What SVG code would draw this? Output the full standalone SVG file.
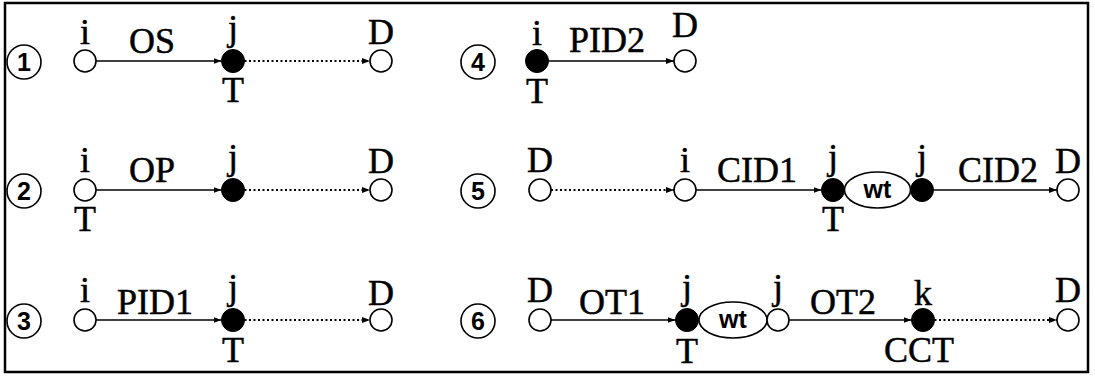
<svg xmlns="http://www.w3.org/2000/svg" width="1095" height="377" viewBox="0 0 1095 377">
  <style>
    .lbl { font-family: "Liberation Serif", "Times New Roman", serif; font-size: 36px; fill: #000; stroke: #000; stroke-width: 0.5; text-anchor: middle; }
    .num { font-family: "Liberation Sans", Arial, sans-serif; font-size: 25px; font-weight: bold; fill: #000; text-anchor: middle; }
    .wt { font-family: "Liberation Sans", Arial, sans-serif; font-size: 25px; font-weight: bold; fill: #000; text-anchor: middle; }
    .badge { fill: #fff; stroke: #000; stroke-width: 1.6; }
    .open { fill: #fff; stroke: #000; stroke-width: 1.6; }
    .full { fill: #000; stroke: #000; stroke-width: 1; }
    .wait { fill: #fff; stroke: #000; stroke-width: 1.6; }
    .solid { stroke: #000; stroke-width: 1.6; fill: none; marker-end: url(#head); }
    .dotted { stroke: #000; stroke-width: 1.8; fill: none; stroke-dasharray: 2 2.5; marker-end: url(#head); }
  </style>
  <defs>
    <marker id="head" markerUnits="userSpaceOnUse" markerWidth="8" markerHeight="6" refX="8" refY="3" orient="auto">
      <path d="M0,0 L8,3 L0,6 z" fill="#000"/>
    </marker>
  </defs>

  <rect x="0" y="0" width="1095" height="377" fill="#fff"/>
  <!-- frame -->
  <rect x="5" y="3" width="1083" height="369" fill="none" stroke="#000" stroke-width="2.5"/>

  <!-- connectors -->
  <g id="connectors">
    <line class="solid" x1="96" y1="61" x2="221.5" y2="61"/>
    <line class="dotted" x1="244.5" y1="61" x2="370" y2="61"/>
    <line class="solid" x1="96" y1="190" x2="221.5" y2="190"/>
    <line class="dotted" x1="244.5" y1="190" x2="370" y2="190"/>
    <line class="solid" x1="96" y1="320" x2="221.5" y2="320"/>
    <line class="dotted" x1="244.5" y1="320" x2="370" y2="320"/>
    <line class="solid" x1="548.5" y1="61" x2="674" y2="61"/>
    <line class="dotted" x1="551" y1="190" x2="674" y2="190"/>
    <line class="solid" x1="696" y1="190" x2="821.5" y2="190"/>
    <line class="solid" x1="933.5" y1="190" x2="1057" y2="190"/>
    <line class="solid" x1="551" y1="320" x2="675.5" y2="320"/>
    <line class="solid" x1="789" y1="320" x2="911.5" y2="320"/>
    <line class="dotted" x1="934.5" y1="320" x2="1057" y2="320"/>
  </g>

  <!-- case 1 -->
  <g id="case1">
    <circle class="badge" cx="24" cy="62" r="17"/>
    <text class="num" x="24" y="71">1</text>
    <circle class="open" cx="85" cy="61" r="11"/>
    <circle class="full" cx="233" cy="61" r="11.5"/>
    <circle class="open" cx="381" cy="61" r="11"/>
    <text class="lbl" x="85" y="44">i</text>
    <text class="lbl" x="152" y="53">OS</text>
    <text class="lbl" x="233" y="40">j</text>
    <text class="lbl" x="233" y="102">T</text>
    <text class="lbl" x="381" y="44">D</text>
  </g>

  <!-- case 2 -->
  <g id="case2">
    <circle class="badge" cx="24" cy="191" r="17"/>
    <text class="num" x="24" y="200">2</text>
    <circle class="open" cx="85" cy="190" r="11"/>
    <circle class="full" cx="233" cy="190" r="11.5"/>
    <circle class="open" cx="381" cy="190" r="11"/>
    <text class="lbl" x="85" y="172">i</text>
    <text class="lbl" x="85" y="231">T</text>
    <text class="lbl" x="152" y="182">OP</text>
    <text class="lbl" x="233" y="169">j</text>
    <text class="lbl" x="381" y="173">D</text>
  </g>

  <!-- case 3 -->
  <g id="case3">
    <circle class="badge" cx="24" cy="321" r="17"/>
    <text class="num" x="24" y="330">3</text>
    <circle class="open" cx="85" cy="320" r="11"/>
    <circle class="full" cx="233" cy="320" r="11.5"/>
    <circle class="open" cx="381" cy="320" r="11"/>
    <text class="lbl" x="85" y="302">i</text>
    <text class="lbl" x="155" y="314">PID1</text>
    <text class="lbl" x="233" y="299">j</text>
    <text class="lbl" x="233" y="362">T</text>
    <text class="lbl" x="381" y="305">D</text>
  </g>

  <!-- case 4 -->
  <g id="case4">
    <circle class="badge" cx="478" cy="62" r="17"/>
    <text class="num" x="478" y="71">4</text>
    <circle class="full" cx="537" cy="61" r="11.5"/>
    <circle class="open" cx="685" cy="61" r="11"/>
    <text class="lbl" x="537" y="45">i</text>
    <text class="lbl" x="537" y="103">T</text>
    <text class="lbl" x="607" y="52">PID2</text>
    <text class="lbl" x="685" y="37">D</text>
  </g>

  <!-- case 5 -->
  <g id="case5">
    <circle class="badge" cx="478" cy="191" r="17"/>
    <text class="num" x="478" y="200">5</text>
    <circle class="open" cx="540" cy="190" r="11"/>
    <circle class="open" cx="685" cy="190" r="11"/>
    <circle class="full" cx="833" cy="190" r="11.5"/>
    <ellipse class="wait" cx="877.5" cy="190" rx="33" ry="18"/>
    <circle class="full" cx="922" cy="190" r="11.5"/>
    <circle class="open" cx="1068" cy="190" r="11"/>
    <text class="lbl" x="540" y="172">D</text>
    <text class="lbl" x="685" y="172">i</text>
    <text class="lbl" x="757" y="182">CID1</text>
    <text class="lbl" x="833" y="169">j</text>
    <text class="lbl" x="833" y="231">T</text>
    <text class="wt" x="877.5" y="198">wt</text>
    <text class="lbl" x="922" y="169">j</text>
    <text class="lbl" x="998" y="182">CID2</text>
    <text class="lbl" x="1068" y="173">D</text>
  </g>

  <!-- case 6 -->
  <g id="case6">
    <circle class="badge" cx="478" cy="321" r="17"/>
    <text class="num" x="478" y="330">6</text>
    <circle class="open" cx="540" cy="320" r="11"/>
    <circle class="full" cx="687" cy="320" r="11.5"/>
    <ellipse class="wait" cx="733" cy="320" rx="34" ry="18"/>
    <circle class="open" cx="778" cy="320" r="11"/>
    <circle class="full" cx="923" cy="320" r="11.5"/>
    <circle class="open" cx="1068" cy="320" r="11"/>
    <text class="lbl" x="540" y="302">D</text>
    <text class="lbl" x="612" y="314">OT1</text>
    <text class="lbl" x="687" y="299">j</text>
    <text class="lbl" x="687" y="363">T</text>
    <text class="wt" x="733" y="328">wt</text>
    <text class="lbl" x="778" y="299">j</text>
    <text class="lbl" x="843" y="314">OT2</text>
    <text class="lbl" x="923" y="305">k</text>
    <text class="lbl" x="919" y="362">CCT</text>
    <text class="lbl" x="1068" y="302">D</text>
  </g>
</svg>
